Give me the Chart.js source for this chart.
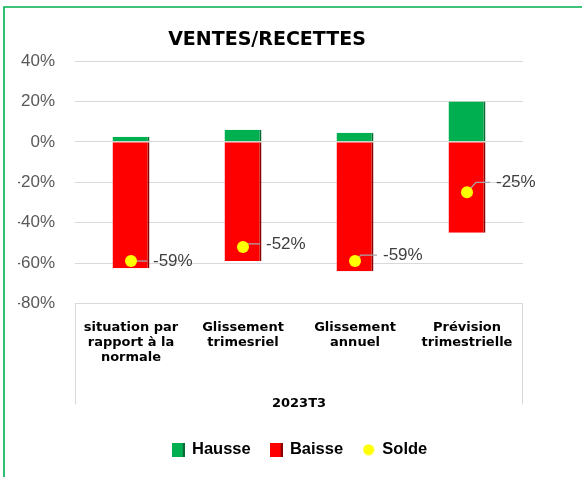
<!DOCTYPE html>
<html>
<head>
<meta charset="utf-8">
<script src="https://cdn.jsdelivr.net/npm/chart.js@4"></script>
<style>
  body { margin: 0; background: #fff; }
  #wrap { width: 582px; height: 477px; position: relative; }
</style>
</head>
<body>
<div id="wrap"><canvas id="chart-ventes"></canvas></div>
<script>
// valeurs (en %)
const chartTitle = "VENTES/RECETTES";
const categories = [
    ["situation par", "rapport à la", "normale"],
    ["Glissement", "trimesriel"],
    ["Glissement", "annuel"],
    ["Prévision", "trimestrielle"]
];
const groupLabel = "2023T3";
const hausse = [2.5, 6, 4.5, 20];
const baisse = [-62.5, -59, -64, -45];
const solde = [-59, -52, -59, -25];
const yTicks = [40, 20, 0, -20, -40, -60, -80];

function swatch(color, edge, round) {
    const c = document.createElement('canvas');
    c.width = 13; c.height = 14;
    const ctx = c.getContext('2d');
    if (round) {
        c.width = 12; c.height = 12;
        ctx.fillStyle = color;
        ctx.beginPath(); ctx.arc(6, 6, 5.5, 0, Math.PI * 2); ctx.fill();
    } else {
        ctx.fillStyle = color; ctx.fillRect(0, 0, 13, 14);
        ctx.fillStyle = edge; ctx.fillRect(11, 0, 2, 14);
    }
    return c;
}

// titre, contour vert, cadre de l'axe des catégories, étiquettes du solde
const decor = {
    id: 'decor',
    beforeDatasetDraw(chart, args) {
        if (args.index !== 2) return;
        const ctx = chart.ctx;
        const meta = chart.getDatasetMeta(2);
        ctx.save();
        ctx.strokeStyle = '#a6a6a6';
        ctx.lineWidth = 1.3;
        meta.data.forEach((pt, i) => {
            const [dx, dy] = chart.options.plugins.decor.offsets[i];
            ctx.beginPath();
            ctx.moveTo(pt.x, pt.y);
            ctx.lineTo(pt.x + Math.min(Math.abs(dy), 9), pt.y + dy);
            ctx.lineTo(pt.x + dx - 6, pt.y + dy);
            ctx.stroke();
        });
        ctx.restore();
    },
    afterDatasetsDraw(chart) {
        const ctx = chart.ctx;
        const meta = chart.getDatasetMeta(2);
        ctx.save();
        ctx.font = '17px "Liberation Sans"';
        ctx.fillStyle = '#404040';
        ctx.textBaseline = 'middle';
        ctx.textAlign = 'left';
        meta.data.forEach((pt, i) => {
            const [dx, dy] = chart.options.plugins.decor.offsets[i];
            ctx.fillText(solde[i] + '%', pt.x + dx, pt.y + dy);
        });
        ctx.restore();
    },
    afterDraw(chart) {
        const ctx = chart.ctx;
        const a = chart.chartArea;
        ctx.save();
        ctx.font = 'bold 19px "DejaVu Sans"';
        ctx.fillStyle = '#000';
        ctx.textAlign = 'center';
        ctx.textBaseline = 'middle';
        ctx.fillText(chartTitle, 267, 40);
        ctx.strokeStyle = '#d9d9d9';
        ctx.lineWidth = 1;
        ctx.beginPath();
        ctx.moveTo(a.left + 0.5, a.bottom); ctx.lineTo(a.left + 0.5, a.bottom + 101);
        ctx.moveTo(a.right - 0.5, a.bottom); ctx.lineTo(a.right - 0.5, a.bottom + 101);
        ctx.stroke();
        ctx.strokeStyle = '#00b050';
        ctx.lineWidth = 1.6;
        ctx.beginPath();
        ctx.moveTo(4, chart.height); ctx.lineTo(4, 7); ctx.lineTo(chart.width, 7);
        ctx.stroke();
        ctx.restore();
    }
};

const ventesChart = new Chart(document.getElementById('chart-ventes').getContext('2d'), {
    type: 'bar',
    data: {
        labels: categories,
        datasets: [
            {
                label: 'Hausse', data: hausse, order: 1,
                backgroundColor: '#00b050', borderColor: '#0a6b36',
                borderWidth: { right: 2 }, borderSkipped: false,
                stack: 'bars', barPercentage: 0.33, categoryPercentage: 1
            },
            {
                label: 'Baisse', data: baisse, order: 1,
                backgroundColor: '#ff0000', borderColor: '#8a0000',
                borderWidth: { right: 2 }, borderSkipped: false,
                stack: 'bars', barPercentage: 0.33, categoryPercentage: 1
            },
            {
                type: 'line', label: 'Solde', data: solde, order: 0,
                showLine: false, stack: 'solde',
                pointRadius: 6, pointHoverRadius: 6,
                backgroundColor: '#ffff00', borderColor: '#ffff00', pointBorderWidth: 0
            }
        ]
    },
    options: {
        responsive: true,
        maintainAspectRatio: false,
        animation: false,
        layout: { padding: { top: 61, right: 0, left: 18, bottom: 9 } },
        plugins: {
            title: { display: false },
            legend: {
                position: 'bottom',
                labels: {
                    usePointStyle: true, boxWidth: 11, boxHeight: 14,
                    padding: 20, color: '#000',
                    font: { family: 'Liberation Sans', size: 16.5, weight: 'bold' },
                    sort: (a, b) => a.datasetIndex - b.datasetIndex,
                    generateLabels(chart) {
                        const items = Chart.defaults.plugins.legend.labels.generateLabels(chart);
                        const styles = [
                            swatch('#00b050', '#0a6b36'),
                            swatch('#ff0000', '#8a0000'),
                            swatch('#ffff00', null, true)
                        ];
                        items.forEach(it => { it.pointStyle = styles[it.datasetIndex]; });
                        return items;
                    }
                }
            },
            tooltip: { enabled: false },
            decor: { offsets: [[22, 0], [23, -3], [28, -6], [29, -10]] }
        },
        scales: {
            x: {
                stacked: true,
                grid: { display: false, drawTicks: false },
                border: { display: false },
                ticks: {
                    color: '#000', padding: 17, maxRotation: 0, autoSkip: false,
                    font: { family: 'DejaVu Sans', size: 13, weight: 'bold', lineHeight: 1.15 }
                },
                title: {
                    display: true, text: groupLabel, color: '#000',
                    font: { family: 'DejaVu Sans', size: 13, weight: 'bold' },
                    padding: { top: 0, bottom: 10 }
                },
                afterFit(scale) { scale.height = 118; }
            },
            y: {
                min: yTicks[yTicks.length - 1], max: yTicks[0],
                grid: { color: '#d9d9d9', drawTicks: false },
                border: { display: false },
                afterBuildTicks(scale) { scale.ticks = yTicks.map(v => ({ value: v })); },
                ticks: {
                    color: '#595959', padding: 20,
                    font: { family: 'Liberation Sans', size: 17 },
                    callback: v => v + '%'
                },
                afterFit(scale) { scale.width = 57; }
            },
            // marge droite, sans rien afficher
            yRight: {
                position: 'right',
                min: yTicks[yTicks.length - 1], max: yTicks[0],
                grid: { display: false, drawTicks: false },
                border: { display: false },
                ticks: { display: false },
                afterFit(scale) { scale.width = 59; }
            }
        }
    },
    plugins: [decor]
});
</script>
</body>
</html>
